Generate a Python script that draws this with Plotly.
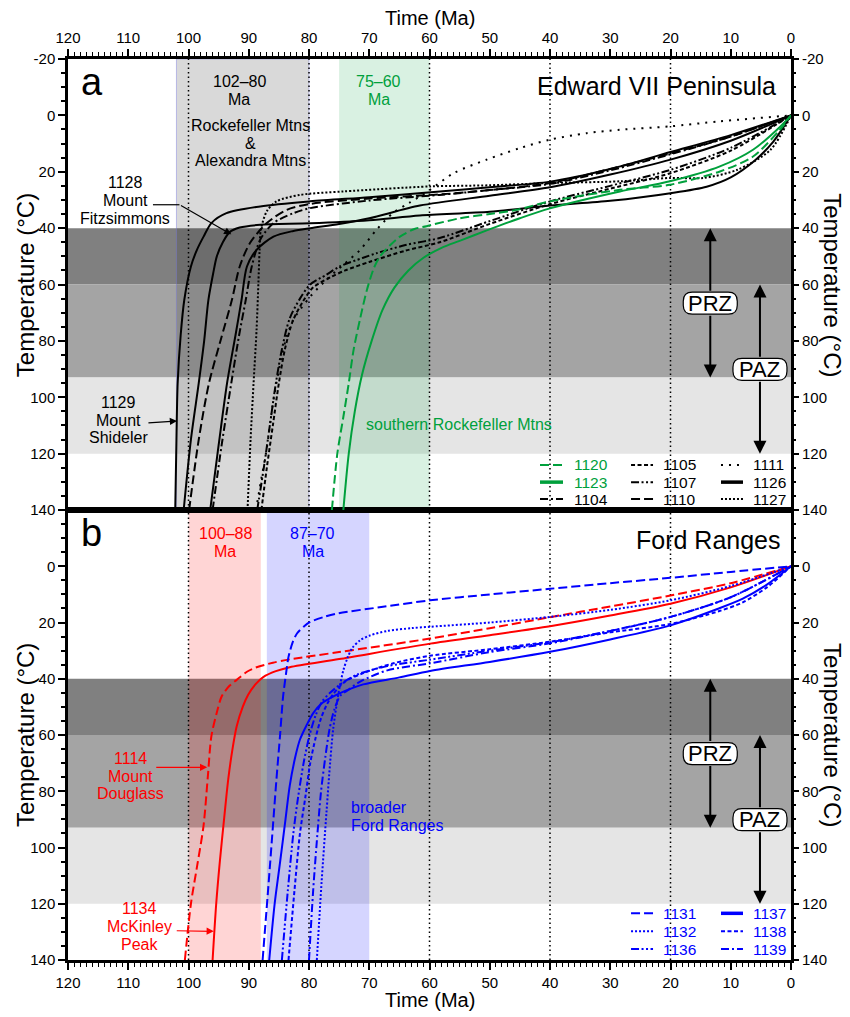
import plotly.graph_objects as go

FONT = "Liberation Sans, Arial, Helvetica, sans-serif"
BLACK = "#000000"
GREEN = "#00a03c"
RED = "#ff0000"
BLUE = "#0000ff"

# ---------------- data: panel a (Edward VII Peninsula) ----------------
s1129_t = [102.2, 102.0, 101.8, 101.3, 100.7, 99.6, 98.6, 97.5, 96.2, 93.7, 88.1, 79.8, 70, 58.3, 50, 40, 30, 20, 10, 0]
s1129_T = [140, 115, 95, 78, 65.5, 53.6, 47.7, 43, 38.2, 34.7, 32.3, 30.5, 29, 27, 25.5, 23.5, 19, 13, 7, 0]

s1128_t = [100.8, 99.6, 98.3, 97.4, 96.7, 95.9, 95.3, 94.3, 93.2, 91.5, 88.1, 79.8, 70, 61.6, 50, 40, 30, 20, 14, 10, 6, 3, 0]
s1128_T = [140, 115, 95, 80, 65.5, 56, 50, 45, 41.5, 39.8, 38.8, 38.3, 37.2, 35.5, 34.2, 32, 30.3, 27.6, 25.3, 22, 16, 9.5, 0]

s1126_t = [96.4, 95.0, 93.6, 92.2, 91.2, 90.3, 88.7, 85.9, 82.6, 79.8, 75, 70, 61.6, 50, 40, 30, 20, 10, 0]
s1126_T = [140, 117, 95, 78, 65.5, 53.6, 47.7, 43, 41, 40, 38.5, 36.5, 32, 28.5, 25.5, 21, 15.7, 9, 0]

s1110_t = [99.9, 98.3, 96.6, 94.7, 92.8, 91.5, 89.8, 87, 83.7, 79.8, 70, 58, 50, 40, 30, 20, 10, 0]
s1110_T = [140, 115, 95, 80, 65.5, 53.6, 45.3, 38.2, 33.5, 31.4, 29.5, 28, 26.5, 24, 19, 13.5, 7.5, 0]

s1104_t = [96.0, 94.5, 92.9, 91.6, 90.5, 89.5, 88.1, 85.9, 82.6, 79.8, 70, 58.3, 50, 40, 30, 20, 10, 0]
s1104_T = [140, 117, 95, 78, 65.5, 53.6, 44.1, 38.2, 34.7, 32.9, 30.2, 28.2, 26.5, 24.3, 19.5, 13.8, 7.5, 0]

s1127_t = [90.2, 89.7, 89.2, 88.7, 88.4, 88.2, 88.0, 87.0, 85.4, 81.5, 74.3, 59.9, 50, 40, 28.4, 20, 14.5, 8.9, 3.4, 0]
s1127_T = [140, 115, 95, 76, 59.5, 48, 40.6, 34, 30.5, 28.2, 27, 25.2, 24.8, 24, 23.4, 22.2, 22.2, 19.3, 12.2, 0]

s1111_t = [88.8, 88.0, 87.0, 85.9, 84.6, 83.7, 82.6, 79.8, 77.1, 74.3, 71.5, 68.8, 66.1, 63.4, 59.9, 56, 50.5, 45, 40, 33.9, 28.4, 20.1, 11.8, 0]
s1111_T = [140, 130, 118, 101, 86, 78.5, 72.5, 64.3, 58.3, 53, 47.7, 40.6, 34.7, 31.1, 26.4, 20.5, 15.7, 11.6, 8.6, 6.3, 5.1, 3.9, 2.1, 0]

s1107_t = [88.6, 87.5, 86.5, 85.5, 84.5, 83.2, 81.5, 79.8, 77.1, 74.9, 71, 68.8, 64, 58.3, 50, 40, 30, 20, 10, 0]
s1107_T = [140, 125, 110, 95, 83, 72, 65, 60, 56.5, 53.6, 50.5, 48.9, 46, 43.5, 37.5, 30.5, 25, 19.3, 11.5, 0]

s1105_t = [87.9, 87.0, 86.0, 85.0, 84.0, 82.7, 81.0, 79.3, 76.5, 74, 70, 64, 58.3, 50, 40, 30, 20, 10, 0]
s1105_T = [140, 125, 110, 95, 83, 73, 66, 61, 57.5, 55, 52, 48, 45, 38.5, 31.5, 26, 20.5, 12.5, 0]

s1120_t = [76.2, 75.3, 74.3, 73.4, 72.6, 71.5, 70.4, 69.2, 68.2, 66.5, 64.9, 62.5, 60.5, 55, 50, 45.5, 40, 28.4, 20.1, 11.8, 6.3, 1.8, 0]
s1120_T = [140, 120, 107, 95, 83.2, 72, 62, 54, 50, 46, 43, 40.3, 39.3, 36.5, 35, 33.5, 30.5, 26.4, 24.6, 19.9, 14.6, 5, 0]

s1123_t = [74.3, 73.4, 72.4, 71.2, 69.6, 67.8, 65.8, 63.5, 61.0, 58.0, 55, 50.5, 45, 40, 28.4, 20.1, 11.8, 6.3, 1.8, 0]
s1123_T = [140, 120, 105, 92, 80, 69, 61, 55, 50.5, 47, 44.5, 40.8, 36.5, 33, 27, 23.4, 18.1, 12.2, 4, 0]

# ---------------- data: panel b (Ford Ranges) ----------------
s1114_t = [100.6, 99.6, 98.6, 97.5, 96.8, 96.2, 95.3, 94.5, 93.2, 92.0, 90.3, 88.7, 86, 83.2, 75, 59.9, 50, 40, 30, 20, 10, 0]
s1114_T = [140, 120, 107, 92.2, 75, 60.4, 52, 46.3, 42.5, 40.4, 37.5, 35.9, 34.3, 33.1, 30.5, 25.7, 22, 18.1, 14.3, 10.4, 6, 0]

s1134_t = [96.0, 95.4, 94.8, 94.1, 93.4, 92.7, 92.0, 91.0, 90.1, 88.9, 87.6, 85.5, 83.2, 75, 59.9, 50, 40, 30, 20, 10, 0]
s1134_T = [140, 120, 105, 90, 75.7, 65, 56.9, 50, 45.7, 42, 39.4, 37.3, 35.9, 33, 27.5, 24.5, 21.3, 17.5, 13.3, 7.5, 0]

s1131_t = [87.7, 86.5, 85.4, 84.8, 84.3, 83.8, 83.4, 82.7, 82.0, 80.8, 79.8, 77.5, 75.4, 68, 59.9, 50, 40, 30, 20, 10, 0]
s1131_T = [140, 107, 75.7, 60, 46.3, 38, 32.2, 27, 23.9, 21.3, 19.8, 18, 16.8, 14.5, 12.1, 10, 8, 6, 4.1, 2, 0]

s1132_t = [78.7, 77.9, 77.1, 76.5, 76.0, 75.4, 74.9, 74.3, 73.6, 72.8, 71.5, 69.9, 67, 63, 59.9, 50, 40, 30, 20, 10, 0]
s1132_T = [140, 112, 87.5, 70, 58.1, 49, 42.8, 37, 32.5, 29, 26.3, 24.6, 23, 22, 21.5, 20, 18, 15.5, 12.1, 7, 0]

s1137_t = [86.6, 85.7, 84.8, 83.9, 83.2, 82.3, 81.5, 80.4, 79.3, 78, 76.5, 74, 71, 65, 59.9, 50, 40, 30, 20, 12, 8, 4, 0]
s1137_T = [140, 120, 105.2, 90, 78.1, 68, 61.6, 56.5, 52.2, 49, 46.9, 44.3, 42, 39.5, 37.2, 34, 30.4, 26, 21, 15, 11.5, 6.5, 0]

s1136_t = [84.5, 83.5, 82.6, 81.8, 80.9, 79.9, 78.9, 77.8, 76.5, 74.5, 72, 67, 59.9, 50, 40, 30, 20, 10, 0]
s1136_T = [140, 115, 95, 82, 70, 60, 53, 48, 45, 41.5, 38.5, 35.5, 33.2, 30, 27, 23, 18, 11, 0]

s1138_t = [83.4, 82.4, 81.5, 80.6, 79.8, 78.9, 78.0, 77.0, 76.0, 74.0, 71.0, 66, 59.9, 50, 40, 30, 20, 12, 8, 4, 0]
s1138_T = [140, 115, 95, 82, 70, 61, 54, 49, 45.5, 41, 38, 34.5, 31.8, 29.5, 26.8, 23.5, 20.5, 16, 12.8, 7.5, 0]

s1139_t = [80.0, 79.3, 78.6, 78.0, 77.3, 76.6, 75.8, 74.8, 73.5, 71.5, 67, 59.9, 50, 40, 30, 20, 10, 0]
s1139_T = [140, 115, 95, 80, 68, 58, 51, 46, 44, 41, 37, 34.5, 30.5, 27.4, 23, 18, 11, 0]

# tick labels
temp_ticks_a = [-20, 0, 20, 40, 60, 80, 100, 120, 140]
temp_labels_a = ["-20", "0", "20", "40", "60", "80", "100", "120", "140"]
temp_ticks_b = [0, 20, 40, 60, 80, 100, 120, 140]
temp_labels_b = ["0", "20", "40", "60", "80", "100", "120", "140"]

# ---------------- styles ----------------
DASH = {
    "solid": "solid",
    "long": "9px,4px",
    "short": "4px,2.5px",
    "dashdot": "8px,3px,2px,3px",
    "dashdotdot": "8px,2.5px,2px,2.5px,2px,2.5px",
    "sparse": "2px,6px",
    "dense": "2px,2px",
}

SERIES_A = {
    "1129": (s1129_t, s1129_T, BLACK, "solid"),
    "1128": (s1128_t, s1128_T, BLACK, "solid"),
    "1126": (s1126_t, s1126_T, BLACK, "solid"),
    "1110": (s1110_t, s1110_T, BLACK, "long"),
    "1104": (s1104_t, s1104_T, BLACK, "dashdot"),
    "1127": (s1127_t, s1127_T, BLACK, "dense"),
    "1111": (s1111_t, s1111_T, BLACK, "sparse"),
    "1107": (s1107_t, s1107_T, BLACK, "dashdotdot"),
    "1105": (s1105_t, s1105_T, BLACK, "short"),
    "1120": (s1120_t, s1120_T, GREEN, "long"),
    "1123": (s1123_t, s1123_T, GREEN, "solid"),
}
SERIES_B = {
    "1114": (s1114_t, s1114_T, RED, "long"),
    "1134": (s1134_t, s1134_T, RED, "solid"),
    "1131": (s1131_t, s1131_T, BLUE, "long"),
    "1132": (s1132_t, s1132_T, BLUE, "dense"),
    "1136": (s1136_t, s1136_T, BLUE, "dashdotdot"),
    "1137": (s1137_t, s1137_T, BLUE, "solid"),
    "1138": (s1138_t, s1138_T, BLUE, "short"),
    "1139": (s1139_t, s1139_T, BLUE, "dashdot"),
}
LEGEND_A = [["1120", "1123", "1104"], ["1105", "1107", "1110"], ["1111", "1126", "1127"]]
LEGEND_B = [["1131", "1132", "1136"], ["1137", "1138", "1139"]]

fig = go.Figure()

for name, (t, T, col, d) in SERIES_A.items():
    fig.add_trace(go.Scatter(x=t, y=T, mode="lines", name=name, xaxis="x2", yaxis="y2",
                             line=dict(color=col, dash=DASH[d], width=2, shape="spline", smoothing=0.8),
                             showlegend=False, hoverinfo="skip"))
for name, (t, T, col, d) in SERIES_B.items():
    fig.add_trace(go.Scatter(x=t, y=T, mode="lines", name=name, xaxis="x", yaxis="y",
                             line=dict(color=col, dash=DASH[d], width=2, shape="spline", smoothing=0.8),
                             showlegend=False, hoverinfo="skip"))
# carriers for right-hand axes
fig.add_trace(go.Scatter(x=[None], y=[None], xaxis="x", yaxis="y3", showlegend=False, hoverinfo="skip"))
fig.add_trace(go.Scatter(x=[None], y=[None], xaxis="x2", yaxis="y4", showlegend=False, hoverinfo="skip"))

shapes = []
annos = []


def refs(p):
    return ("x2", "y2") if p == "a" else ("x", "y")


for p in ("a", "b"):
    xr, yr = refs(p)
    for (y0, y1, c) in [(40, 60, "#808080"), (60, 93, "#a4a4a4"), (93, 120, "#e5e5e5")]:
        shapes.append(dict(type="rect", xref=xr + " domain", yref=yr, x0=0, x1=1, y0=y0, y1=y1,
                           fillcolor=c, line=dict(width=0), layer="below"))
# vertical age boxes
for (p, x0, x1, c, lc) in [("a", 102, 80, "rgba(0,0,0,0.15)", "rgba(120,120,220,0.45)"),
                           ("a", 75, 60, "rgba(0,160,60,0.15)", "rgba(0,0,0,0)"),
                           ("b", 100, 88, "rgba(255,0,0,0.165)", "rgba(0,0,0,0)"),
                           ("b", 87, 70, "rgba(0,0,255,0.165)", "rgba(0,0,0,0)")]:
    xr, yr = refs(p)
    shapes.append(dict(type="rect", xref=xr, yref=yr + " domain", x0=x0, x1=x1, y0=0, y1=1,
                       fillcolor=c, line=dict(width=1, color=lc), layer="below"))
# dotted verticals
for p in ("a", "b"):
    xr, yr = refs(p)
    for xv in (100, 80, 60, 40, 20):
        shapes.append(dict(type="line", xref=xr, yref=yr + " domain", x0=xv, x1=xv, y0=0, y1=1,
                           line=dict(color="black", width=1.5, dash="1.5px,3px"), layer="below"))

LINE_GAP = 17.6  # px between stacked text lines


def text(p, x, y, s, size=16, color="black", xanchor="center"):
    """y is the centre of the text block; each line is a separate annotation."""
    xr, yr = refs(p)
    lines = s.split("\n")
    n = len(lines)
    for i, ln in enumerate(lines):
        annos.append(dict(xref=xr, yref=yr, x=x, y=y, text=ln, showarrow=False, xanchor=xanchor,
                          yanchor="middle", yshift=((n - 1) / 2 - i) * LINE_GAP,
                          font=dict(family=FONT, size=size, color=color)))


def arrow(p, x, y, ax, ay, color="black", width=1.2, head=2, size=1.2, sso=0):
    xr, yr = refs(p)
    annos.append(dict(xref=xr, yref=yr, axref=xr, ayref=yr, x=x, y=y, ax=ax, ay=ay, text="",
                      showarrow=True, arrowhead=head, arrowsize=size, arrowwidth=width,
                      arrowcolor=color, startstandoff=sso))


# panel a texts
text("a", 116.1, -11.8, "a", size=38)
text("a", 91.6, -8.75, "102–80\nMa")
text("a", 89.7, 9.8, "Rockefeller Mtns\n&\nAlexandra Mtns")
text("a", 68.4, -8.75, "75–60\nMa", color=GREEN)
text("a", 2.1, -10.3, "Edward VII Peninsula", size=25, xanchor="right")
text("a", 110.5, 30.2, "1128\nMount\nFitzsimmons")
shapes.append(dict(type="line", xref="x2", yref="y2", x0=105.9, x1=101.5, y0=31.7, y1=31.7,
                   line=dict(color="black", width=1.2)))
arrow("a", 92.9, 42.2, 101.5, 31.7)
text("a", 111.65, 108.1, "1129\nMount\nShideler")
arrow("a", 101.9, 108.4, 106.9, 109.1)
text("a", 55.1, 109.8, "southern Rockefeller Mtns", color=GREEN)

# panel b texts
text("b", 116.1, -11.8, "b", size=38)
text("b", 93.9, -8.55, "100–88\nMa", color=RED)
text("b", 79.4, -8.55, "87–70\nMa", color=BLUE)
text("b", 1.4, -9.3, "Ford Ranges", size=25, xanchor="right")
text("b", 109.7, 74.6, "1114\nMount\nDouglass", color=RED)
arrow("b", 96.9, 71.5, 105.6, 71.5, color=RED)
text("b", 108.2, 128.1, "1134\nMcKinley\nPeak", color=RED)
arrow("b", 95.8, 129.8, 102.2, 129.6, color=RED)
text("b", 73.4, 88.9, "broader\nFord Ranges", color=BLUE, xanchor="left")

# PRZ / PAZ zone markers
RR = "M -18,-11 L 18,-11 Q 27,-11 27,-2 L 27,2 Q 27,11 18,11 L -18,11 Q -27,11 -27,2 L -27,-2 Q -27,-11 -18,-11 Z"
for p in ("a", "b"):
    xr, yr = refs(p)
    for (lab, xv, yc, top, bot) in [("PRZ", 13.4, 66.6, 40, 93), ("PAZ", 5.15, 90.1, 60, 120)]:
        arrow(p, xv, top, xv, yc, width=2, size=1.3, sso=11)
        arrow(p, xv, bot, xv, yc, width=2, size=1.3, sso=11)
        shapes.append(dict(type="path", xref=xr, yref=yr, xsizemode="pixel", ysizemode="pixel",
                           xanchor=xv, yanchor=yc, path=RR, fillcolor="white",
                           line=dict(color="black", width=1.2), layer="above"))
        text(p, xv, yc, lab, size=22)


# manual legends
def legend(p, columns, series, rows_T, cols_x):
    xr, yr = refs(p)
    for ci, col in enumerate(columns):
        lx0, lx1, tx = cols_x[ci]
        for ri, key in enumerate(col):
            _, _, c, d = series[key]
            w = 3.5 if d == "solid" else 2
            shapes.append(dict(type="line", xref=xr, yref=yr, x0=lx0, x1=lx1, y0=rows_T[ri], y1=rows_T[ri],
                               line=dict(color=c, width=w, dash=DASH[d])))
            annos.append(dict(xref=xr, yref=yr, x=tx, y=rows_T[ri], text=key, showarrow=False,
                              xanchor="left", yanchor="middle",
                              font=dict(family=FONT, size=15.5, color=c)))


legend("a", LEGEND_A, SERIES_A, [124.0, 130.1, 136.1],
       [(41.66, 37.84, 36.35), (26.55, 22.9, 21.58), (11.62, 7.97, 6.64)])
legend("b", LEGEND_B, SERIES_B, [123.4, 129.8, 136.1],
       [(26.55, 22.9, 21.58), (11.62, 7.97, 6.64)])

# axis titles
for yp in (1.0455, -0.0444):
    annos.append(dict(xref="paper", yref="paper", x=0.5, y=yp, text="Time (Ma)", showarrow=False,
                      xanchor="center", yanchor="middle", font=dict(family=FONT, size=20)))
for yc in (0.749, 0.2497):
    annos.append(dict(xref="paper", yref="paper", x=-0.0595, y=yc, text="Temperature (°C)",
                      showarrow=False, textangle=-90, xanchor="center", yanchor="middle",
                      font=dict(family=FONT, size=24)))
    annos.append(dict(xref="paper", yref="paper", x=1.058, y=yc, text="Temperature (°C)",
                      showarrow=False, textangle=90, xanchor="center", yanchor="middle",
                      font=dict(family=FONT, size=24)))

SPLIT = 0.4994
tickfont = dict(family=FONT, size=15, color="black")
xcommon = dict(range=[120, 0], tickmode="linear", tick0=0, dtick=10, ticks="outside", ticklen=7,
               tickwidth=2, tickcolor="black",
               minor=dict(tickmode="linear", tick0=0, dtick=1, ticks="outside", ticklen=4,
                          tickwidth=1.2, tickcolor="black"),
               showline=True, linewidth=2.5, linecolor="black", mirror=True, showgrid=False,
               zeroline=False, tickfont=tickfont)
ycommon = dict(range=[140, -20], tickmode="array", ticks="outside", ticklen=7, tickwidth=2,
               tickcolor="black",
               minor=dict(tickmode="linear", tick0=0, dtick=5, ticks="outside", ticklen=4,
                          tickwidth=1.5, tickcolor="black"),
               showgrid=False, zeroline=False, tickfont=tickfont)

fig.update_layout(
    width=850, height=1017,
    margin=dict(l=68, r=59, t=59, b=57, autoexpand=False),
    paper_bgcolor="white", plot_bgcolor="white",
    font=dict(family=FONT, color="black"),
    xaxis=dict(domain=[0, 1], anchor="y", side="bottom", **xcommon),
    xaxis2=dict(domain=[0, 1], anchor="y2", side="top", **xcommon),
    yaxis=dict(domain=[0, SPLIT], anchor="x", side="left", tickvals=temp_ticks_b, ticktext=temp_labels_b,
               showline=True, linewidth=2.5, linecolor="black", mirror=True, **ycommon),
    yaxis2=dict(domain=[SPLIT, 1], anchor="x2", side="left", tickvals=temp_ticks_a, ticktext=temp_labels_a,
                showline=True, linewidth=2.5, linecolor="black", mirror=True, **ycommon),
    yaxis3=dict(overlaying="y", anchor="x", side="right", tickvals=temp_ticks_b, ticktext=temp_labels_b,
                showline=False, **ycommon),
    yaxis4=dict(overlaying="y2", anchor="x2", side="right", tickvals=temp_ticks_a, ticktext=temp_labels_a,
                showline=False, **ycommon),
    shapes=shapes, annotations=annos, showlegend=False,
)

fig.write_html("out.html")
